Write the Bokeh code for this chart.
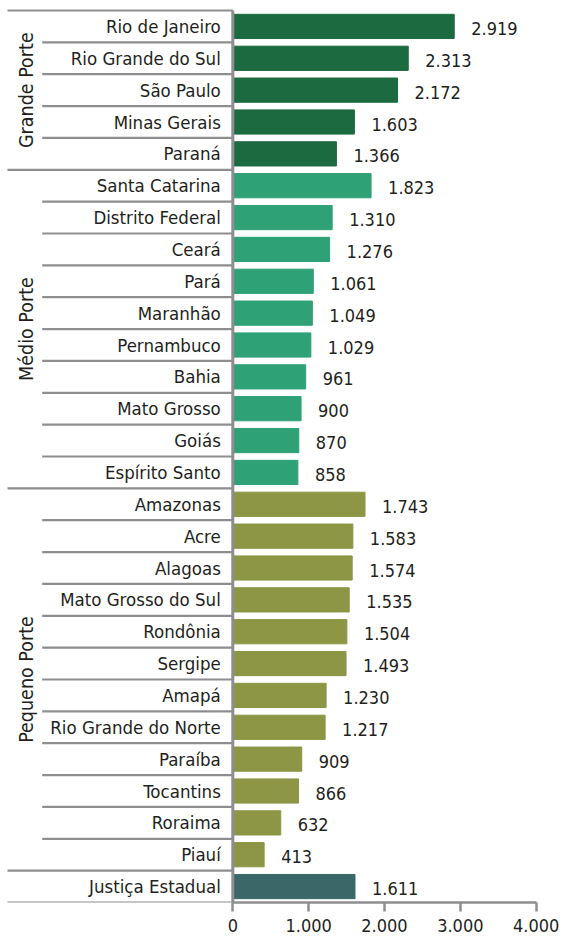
import math
from bokeh.plotting import figure
from bokeh.models import Range1d, FixedTicker, ColumnDataSource
from bokeh.core.properties import value
from bokeh.embed import file_html
from bokeh.resources import INLINE

# ---- data ----
grande_names = ["Rio de Janeiro", "Rio Grande do Sul", "São Paulo", "Minas Gerais", "Paraná"]
grande_values = [2919, 2313, 2172, 1603, 1366]
medio_names = ["Santa Catarina", "Distrito Federal", "Ceará", "Pará", "Maranhão",
               "Pernambuco", "Bahia", "Mato Grosso", "Goiás", "Espírito Santo"]
medio_values = [1823, 1310, 1276, 1061, 1049, 1029, 961, 900, 870, 858]
pequeno_names = ["Amazonas", "Acre", "Alagoas", "Mato Grosso do Sul", "Rondônia", "Sergipe",
                 "Amapá", "Rio Grande do Norte", "Paraíba", "Tocantins", "Roraima", "Piauí"]
pequeno_values = [1743, 1583, 1574, 1535, 1504, 1493, 1230, 1217, 909, 866, 632, 413]
total_names = ["Justiça Estadual"]
total_values = [1611]
group_labels = ["Grande Porte", "Médio Porte", "Pequeno Porte"]
x_ticks = [0, 1000, 2000, 3000, 4000]
x_tick_labels = ["0", "1.000", "2.000", "3.000", "4.000"]

COLORS = ["#1c6a3f", "#2ea176", "#8c9645", "#3a6869"]
GRAY = "#8e8e90"
TEXT = "#231f20"
FONT = "'Liberation Sans Narrow', 'DejaVu Sans Condensed', 'Open Sans', sans-serif"

groups = [(grande_names, grande_values), (medio_names, medio_values),
          (pequeno_names, pequeno_values), (total_names, total_values)]

names, vals, cols, ys = [], [], [], []
group_bounds = []
row = 0
for gi, (nm, vv) in enumerate(groups):
    start = row
    for n, v in zip(nm, vv):
        names.append(n)
        vals.append(v)
        cols.append(COLORS[gi])
        ys.append(row + 0.5)
        row += 1
    group_bounds.append((start, row))
NROWS = row

fmt = [f"{v:,}".replace(",", ".") for v in vals]
src = ColumnDataSource(dict(y=ys, v=vals, name=names, c=cols, lab=fmt, zero=[0] * len(vals)))

W, H = 562, 940
AXIS_H = 38
PX = 0.07585              # pixels per data unit
ZERO_PX = 232.3           # pixel position of x = 0
X_LEFT = -ZERO_PX / PX
X_RIGHT = X_LEFT + W / PX
ROW_PX = (H - AXIS_H - 10) / NROWS
Y_TOP = -10 / ROW_PX

p = figure(width=W, height=H, output_backend="svg", toolbar_location=None,
           x_range=Range1d(X_LEFT, X_RIGHT), y_range=Range1d(NROWS, Y_TOP),
           min_border_left=0, min_border_right=0, min_border_top=0, min_border_bottom=AXIS_H)
p.outline_line_color = None
p.grid.visible = False
p.yaxis.visible = False
p.background_fill_color = "white"

# bars
p.hbar(y="y", left="zero", right="v", height=0.76, color="c", source=src)

# value labels
p.text(x="v", y="y", text="lab", source=src, x_offset=17, y_offset=2,
       text_align="left", text_baseline="middle", text_font=value(FONT),
       text_font_size="18px", text_color=TEXT)

# category labels
p.text(x="zero", y="y", text="name", source=src, x_offset=-12,
       text_align="right", text_baseline="middle", text_font=value(FONT),
       text_font_size="18.5px", text_color=TEXT)

# separators
long_rows = sorted(set([b[0] for b in group_bounds] + [NROWS]))
short_x0 = X_LEFT + 41.7 / PX
long_x0 = X_LEFT + 7 / PX
seg_x0, seg_y = [], []
for r in range(NROWS + 1):
    seg_x0.append(long_x0 if r in long_rows else short_x0)
    seg_y.append(r)
p.segment(x0=seg_x0, y0=seg_y, x1=[0] * len(seg_y), y1=seg_y, line_color=GRAY, line_width=2.2)
# vertical axis line
p.segment(x0=[0], y0=[0], x1=[0], y1=[NROWS], line_color=GRAY, line_width=3)

# group labels
gx, gy = [], []
for (s, e) in group_bounds[:3]:
    gx.append(X_LEFT)
    gy.append((s + e) / 2)
p.text(x=gx, y=gy, text=group_labels, angle=math.pi / 2, x_offset=26,
       text_align="center", text_baseline="middle", text_font=value(FONT),
       text_font_size="19.5px", text_color=TEXT)

# x axis
ax = p.xaxis[0]
ax.bounds = (x_ticks[0], x_ticks[-1])
ax.ticker = FixedTicker(ticks=x_ticks)
ax.major_label_overrides = {t: l for t, l in zip(x_ticks, x_tick_labels)}
ax.axis_line_color = GRAY
ax.axis_line_width = 2.5
ax.major_tick_line_color = GRAY
ax.major_tick_line_width = 2.5
ax.major_tick_in = 0
ax.major_tick_out = 9
ax.minor_tick_line_color = None
ax.major_label_standoff = 7
ax.major_label_text_font = FONT
ax.major_label_text_font_size = "18px"
ax.major_label_text_color = TEXT

open("out.html", "w").write(file_html(p, INLINE))
